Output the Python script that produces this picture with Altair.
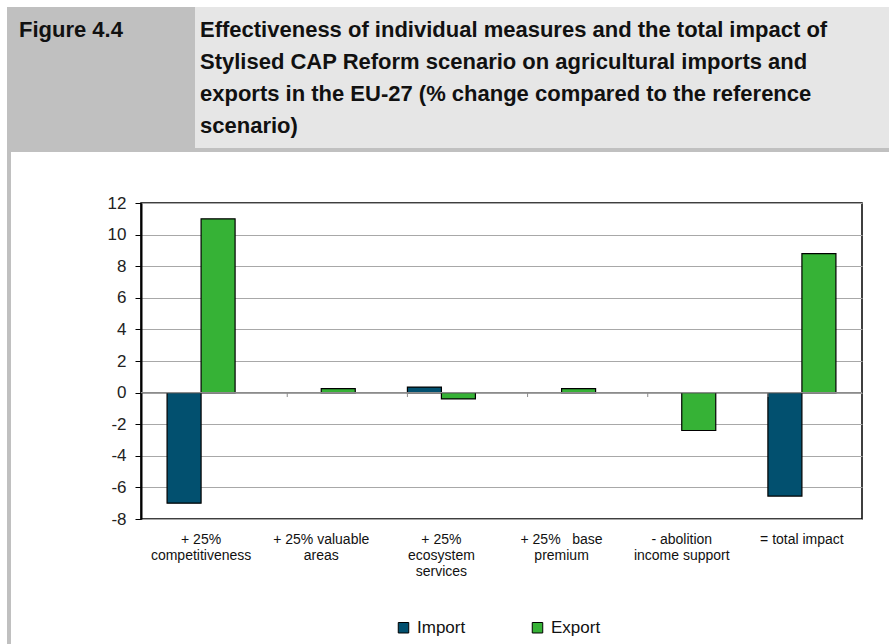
import altair as alt
import pandas as pd

categories = [
    "+ 25%\ncompetitiveness",
    "+ 25% valuable\nareas",
    "+ 25%\necosystem\nservices",
    "+ 25%\u00a0\u00a0 base\npremium",
    "- abolition\nincome support",
    "= total impact",
]
import_values = [-7.0, 0.0, 0.35, 0.0, 0.0, -6.55]
export_values = [11.0, 0.25, -0.4, 0.25, -2.4, 8.8]
series = ["Import", "Export"]
colors = ["#02506f", "#36b236"]
y_ticks = [-8, -6, -4, -2, 0, 2, 4, 6, 8, 10, 12]

fig_label = "Figure 4.4"
title_lines = [
    "Effectiveness of individual measures and the total impact of",
    "Stylised CAP Reform scenario on agricultural imports and",
    "exports in the EU-27 (% change compared to the reference",
    "scenario)",
]

rows = []
for c, iv, ev in zip(categories, import_values, export_values):
    rows.append({"cat": c, "series": "Import", "value": iv})
    rows.append({"cat": c, "series": "Export", "value": ev})
df = pd.DataFrame(rows)

W, H = 721, 316
OX, OY = 141, 203

xscale = alt.Scale(paddingInner=0.434, paddingOuter=0.217)
x_axis = alt.Axis(title=None, labelAngle=0, labelAlign="center",
                  ticks=False, domain=False, grid=False,
                  labelExpr="split(datum.label, '\\n')",
                  labelFont="Liberation Sans", labelFontSize=14,
                  labelColor="#111", labelLineHeight=16,
                  labelBaseline="top", labelPadding=13)
y_scale = alt.Scale(domain=[-8, 12], nice=False)
y_axis = alt.Axis(title=None, values=y_ticks, grid=True, gridColor="#a8a8a8",
                  gridWidth=1, domainColor="black", domainWidth=2,
                  tickColor="black", tickSize=6, labelPadding=9,
                  labelOverlap=False, labelExpr="datum.value + ''",
                  labelFont="Liberation Sans", labelFontSize=17,
                  labelColor="#222")

bars = alt.Chart(df).transform_filter("datum.value != 0").mark_bar(
    stroke="black", strokeWidth=1.2).encode(
    x=alt.X("cat:N", sort=categories, scale=xscale, axis=x_axis),
    xOffset=alt.XOffset("series:N", sort=series, scale=alt.Scale(paddingInner=0, paddingOuter=0)),
    y=alt.Y("value:Q", scale=y_scale, axis=y_axis),
    color=alt.Color("series:N", sort=series,
                    scale=alt.Scale(domain=series, range=colors),
                    legend=alt.Legend(title=None, orient="none", direction="horizontal",
                                      legendX=254, legendY=416, symbolType="square",
                                      symbolSize=110, symbolStrokeColor="black",
                                      symbolStrokeWidth=1, labelFont="Liberation Sans",
                                      labelFontSize=17, labelColor="#111",
                                      columnPadding=63, labelOffset=5, padding=0)),
)

zero_df = pd.DataFrame({"v": [0]})
zero_line = alt.Chart(zero_df).mark_rule(color="#8c8c8c", strokeWidth=1.2).encode(
    y=alt.Y("v:Q", scale=y_scale, axis=y_axis)
)

bound_df = pd.DataFrame({"cat": categories[1:], "v": [0] * 5, "v2": [-0.28] * 5})
bound_ticks = alt.Chart(bound_df).mark_rule(color="#8c8c8c", strokeWidth=1).encode(
    x=alt.X("cat:N", sort=categories, bandPosition=0, scale=xscale, axis=x_axis),
    y=alt.Y("v:Q", scale=y_scale, axis=y_axis),
    y2="v2:Q",
)

one = pd.DataFrame({"a": [0]})

def rect(x0, x1, y0, y1, color):
    return alt.Chart(one).mark_rect(color=color).encode(
        x=alt.value(x0 - OX), x2=alt.value(x1 - OX),
        y=alt.value(y0 - OY), y2=alt.value(y1 - OY))

header = [
    rect(7, 195, 7, 152, "#c0c0c0"),
    rect(195, 889, 7, 148, "#e6e6e6"),
    rect(7, 889, 148, 152, "#c0c0c0"),
    rect(7, 11, 152, 644, "#c0c0c0"),
]

def txt(s, x, y):
    return alt.Chart(one).mark_text(align="left", baseline="alphabetic",
                                    font="Liberation Sans", fontWeight="bold",
                                    fontSize=22, color="#111").encode(
        x=alt.value(x - OX), y=alt.value(y - OY), text=alt.value(s))

texts = [txt(fig_label, 19, 37)] + [txt(t, 200, 37 + 32 * i) for i, t in enumerate(title_lines)]

chart = alt.layer(*header, *texts, bars, zero_line, bound_ticks).properties(
    width=W, height=H,
    padding={"left": OX, "top": OY, "right": 889 - OX - W, "bottom": 644 - OY - H},
    autosize=alt.AutoSizeParams(type="none"),
    background="white",
).configure_view(stroke="black", strokeWidth=1.5)

chart.save("out.html", embed_options={"renderer": "svg", "actions": False})
